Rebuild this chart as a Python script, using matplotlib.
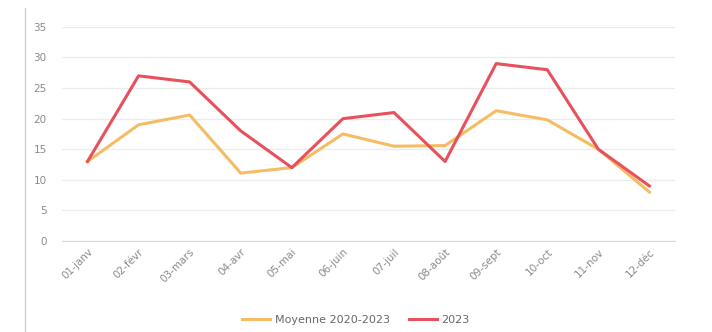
import matplotlib
matplotlib.use("Agg")
import matplotlib.pyplot as plt
from matplotlib.lines import Line2D

# Data
months = ["01-janv", "02-févr", "03-mars", "04-avr", "05-mai", "06-juin",
          "07-juil", "08-août", "09-sept", "10-oct", "11-nov", "12-déc"]
moyenne = [13, 19, 20.6, 11.1, 12, 17.5, 15.5, 15.6, 21.3, 19.8, 15, 8]
annee_2023 = [13, 27, 26, 18, 12, 20, 21, 13, 29, 28, 15, 9]

ORANGE = "#F5BD63"
RED = "#E8505B"
TEXT = "#8a8a8a"

fig = plt.figure(figsize=(7.12, 3.32), dpi=100)
ax = fig.add_axes([0.087, 0.274, 0.861, 0.645])

x = range(len(months))
ax.plot(x, moyenne, color=ORANGE, lw=2.2, label="Moyenne 2020-2023")
ax.plot(x, annee_2023, color=RED, lw=2.2, label="2023")

ax.set_xlim(-0.5, len(months) - 0.5)
ax.set_ylim(0, 35)
ax.set_yticks(range(0, 36, 5))
ax.set_xticks(list(x))
ax.set_xticklabels(months, rotation=45, ha="right", rotation_mode="anchor")

for side in ["top", "right", "left"]:
    ax.spines[side].set_visible(False)
ax.spines["bottom"].set_color("#d9d9d9")
ax.grid(axis="y", color="#ececec", lw=1)
ax.set_axisbelow(True)
ax.tick_params(axis="both", length=0, labelsize=7.5, labelcolor=TEXT)
ax.tick_params(axis="y", pad=11)
ax.tick_params(axis="x", pad=4)

fig.legend(loc="lower center", bbox_to_anchor=(0.5, -0.01), ncol=2, frameon=False,
           fontsize=8, labelcolor="#666666", handlelength=2.5,
           handletextpad=0.45, columnspacing=1.7)

# thin frame line on the left edge of the picture
fig.add_artist(Line2D([0.035, 0.035], [0.0, 0.975], transform=fig.transFigure,
                      color="#d0d0d0", lw=1))

fig.savefig("out.png", dpi=100)
